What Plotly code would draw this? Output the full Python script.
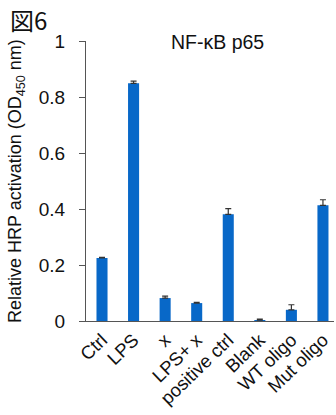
import plotly.graph_objects as go

categories = ["Ctrl", "LPS", "x", "LPS+ x", "positive ctrl", "Blank", "WT oligo", "Mut oligo"]
values = [0.225, 0.849, 0.082, 0.064, 0.381, 0.003, 0.040, 0.413]
errors = [0.002, 0.008, 0.007, 0.003, 0.02, 0.004, 0.018, 0.02]
tick_vals = [0, 0.2, 0.4, 0.6, 0.8, 1]
tick_text = ["0", "0.2", "0.4", "0.6", "0.8", "1"]

W, H = 336, 415
L, R, T, B = 86, 2, 41, 94

fig = go.Figure()
fig.add_trace(go.Bar(
    x=list(range(len(categories))), y=values,
    width=0.35,
    marker=dict(color="#0868C8", line=dict(width=0)),
    error_y=dict(type="data", array=errors, visible=True, symmetric=False,
                 arrayminus=[0]*len(errors),
                 color="#333333", thickness=1.2, width=3),
))

fig.update_layout(
    width=W, height=H,
    margin=dict(l=L, r=R, t=T, b=B),
    paper_bgcolor="white", plot_bgcolor="white",
    showlegend=False,
    font=dict(family="Liberation Sans, Arial, sans-serif", color="#111111"),
    xaxis=dict(
        range=[-0.507, 7.35],
        tickmode="array", tickvals=list(range(len(categories))), ticktext=categories,
        tickangle=-44, tickfont=dict(size=18.5, color="#111111"),
        showline=True, linecolor="#555555", linewidth=1,
        ticks="", showgrid=False, zeroline=False,
    ),
    yaxis=dict(
        range=[0, 1],
        tickmode="array", tickvals=tick_vals, ticktext=tick_text,
        tickfont=dict(size=19, color="#111111"),
        showline=True, linecolor="#555555", linewidth=1,
        ticks="outside", ticklen=6, tickcolor="#555555",
        ticklabelstandoff=10,
        showgrid=False, zeroline=False,
    ),
)

fig.add_annotation(
    text="Relative HRP activation (OD<sub>450</sub> nm)",
    xref="paper", yref="paper", x=(16 - L) / (W - L - R), y=(H - B - 181) / (H - T - B),
    textangle=-90, showarrow=False, font=dict(size=18, color="#111111"),
    xanchor="center", yanchor="middle",
)
fig.add_annotation(
    text="NF-κB p65",
    xref="paper", yref="paper", x=(217 - L) / (W - L - R), y=(H - B - 42) / (H - T - B),
    showarrow=False, font=dict(size=19.5, color="#111111"),
    xanchor="center", yanchor="middle",
)
fig.add_annotation(
    text="図6",
    xref="paper", yref="paper", x=(8 - L) / (W - L - R), y=(H - B - 19) / (H - T - B),
    showarrow=False, font=dict(size=24, color="#111111", family="Noto Sans CJK JP"),
    xanchor="left", yanchor="middle",
)

fig.write_html("out.html")
